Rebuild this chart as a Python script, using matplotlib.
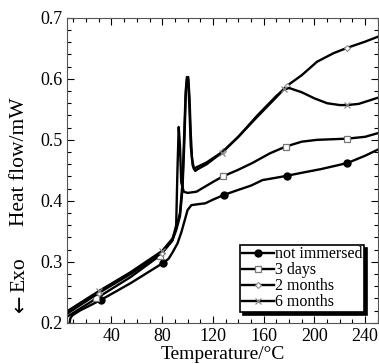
import numpy as np
import matplotlib.pyplot as plt
from matplotlib.ticker import MultipleLocator

plt.rcParams['font.family'] = ['Liberation Serif', 'DejaVu Serif']

# ---- data ----
t_not = [7, 7.5, 9, 15, 32, 55, 80.5, 85, 88, 92, 95, 98, 100, 103, 110, 114, 120, 129,
         140, 150, 159, 170, 178, 190, 205, 226, 240, 250]
v_not = [0.2, 0.207, 0.212, 0.22, 0.238, 0.265, 0.298, 0.305, 0.315, 0.33, 0.348, 0.37,
         0.385, 0.393, 0.395, 0.396, 0.402, 0.41, 0.418, 0.425, 0.434, 0.438, 0.441, 0.446,
         0.452, 0.462, 0.474, 0.484]
mk_not = [32, 80.5, 129, 178, 226]

t_3d = [5, 28, 55, 78, 88, 91, 92, 93, 94, 95, 97, 100, 107, 120, 127.7, 140, 151, 165,
        177.4, 190, 202, 226, 240, 250]
v_3d = [0.21, 0.24, 0.275, 0.31, 0.335, 0.36, 0.45, 0.521, 0.49, 0.43, 0.415, 0.413, 0.415,
        0.431, 0.44, 0.451, 0.462, 0.478, 0.489, 0.497, 0.5, 0.502, 0.505, 0.511]
mk_3d = [28, 78, 127.7, 177.4, 226]

t_2m = [5, 30, 55, 80, 88, 91, 94, 96, 97.5, 98.5, 99.5, 100.5, 101.5, 102.5, 103.5, 105,
        107, 115, 128, 140, 155, 170, 178, 190, 202, 215, 226, 240, 250]
v_2m = [0.215, 0.249, 0.28, 0.315, 0.335, 0.352, 0.375, 0.42, 0.5, 0.57, 0.6, 0.603, 0.57,
        0.51, 0.47, 0.452, 0.455, 0.463, 0.481, 0.505, 0.538, 0.57, 0.588, 0.606, 0.628,
        0.642, 0.651, 0.661, 0.669]
mk_2m = [30, 80, 128, 178, 226]

t_6m = [5, 30, 55, 80, 88, 91, 94, 96, 97.5, 98.5, 99.5, 100.5, 101.5, 102.5, 104, 106,
        108, 115, 127, 140, 155, 170, 176, 180, 190, 200, 210, 220, 226, 235, 250]
v_6m = [0.219, 0.252, 0.283, 0.318, 0.338, 0.355, 0.38, 0.43, 0.52, 0.58, 0.603, 0.598,
        0.55, 0.49, 0.458, 0.449, 0.452, 0.46, 0.479, 0.505, 0.54, 0.572, 0.583, 0.585,
        0.578, 0.568, 0.56, 0.557, 0.557, 0.559, 0.569]
mk_6m = [30, 80, 127, 176, 226]

fig = plt.figure(figsize=(3.79, 3.64), dpi=100)
ax = fig.add_axes([0.177, 0.113, 0.82, 0.838])

def draw(t, v, mk, marker, label, **kw):
    idx = [i for i, x in enumerate(t) if x in mk]
    ax.plot(t, v, color='black', lw=1.7, marker=marker, markevery=idx, label=label, **kw)

draw(t_not, v_not, mk_not, 'o', 'not immersed', ms=5, mfc='black', mec='black')
draw(t_3d, v_3d, mk_3d, 's', '3 days', ms=5, mfc='white', mec='#777777', mew=0.9)
draw(t_2m, v_2m, mk_2m, 'D', '2 months', ms=3, mfc='white', mec='#888888', mew=0.8)
draw(t_6m, v_6m, mk_6m, 'x', '6 months', ms=4, mec='#888888', mew=0.9)

ax.set_xlim(5, 250)
ax.set_ylim(0.2, 0.7)
ax.xaxis.set_major_locator(MultipleLocator(40))
ax.xaxis.set_minor_locator(MultipleLocator(10))
ax.yaxis.set_major_locator(MultipleLocator(0.1))
ax.yaxis.set_minor_locator(MultipleLocator(0.02))
ax.tick_params(which='both', direction='in', top=True, right=True, labelsize=13, width=0.8)
ax.tick_params(which='major', length=5)
ax.tick_params(which='minor', length=3)
ax.set_xticks([40, 80, 120, 160, 200, 240])
ax.yaxis.set_major_formatter(plt.FormatStrFormatter('%.1f'))
for s in ax.spines.values():
    s.set_linewidth(0.8)
    s.set_color('#555555')

ax.set_xlabel('Temperature/°C', fontsize=14, labelpad=1)
fig.text(0.052, 0.557, 'Heat flow/mW', rotation=90, fontsize=15.5, ha='center', va='center')
fig.text(0.052, 0.245, 'Exo', rotation=90, fontsize=15.5, ha='center', va='center')
fig.text(0.054, 0.168, '←', rotation=90, fontsize=15, ha='center', va='center',
         family='DejaVu Sans')

leg = ax.legend(loc='lower right', bbox_to_anchor=(0.97, 0.02), fontsize=11.5, frameon=True,
                fancybox=False, shadow={'color': 'black', 'alpha': 1}, edgecolor='black',
                handlelength=2.0, handletextpad=0.05, borderpad=0.1, labelspacing=0.0,
                borderaxespad=0.3)
leg.get_frame().set_linewidth(1.2)

fig.savefig('out.png', dpi=100)
